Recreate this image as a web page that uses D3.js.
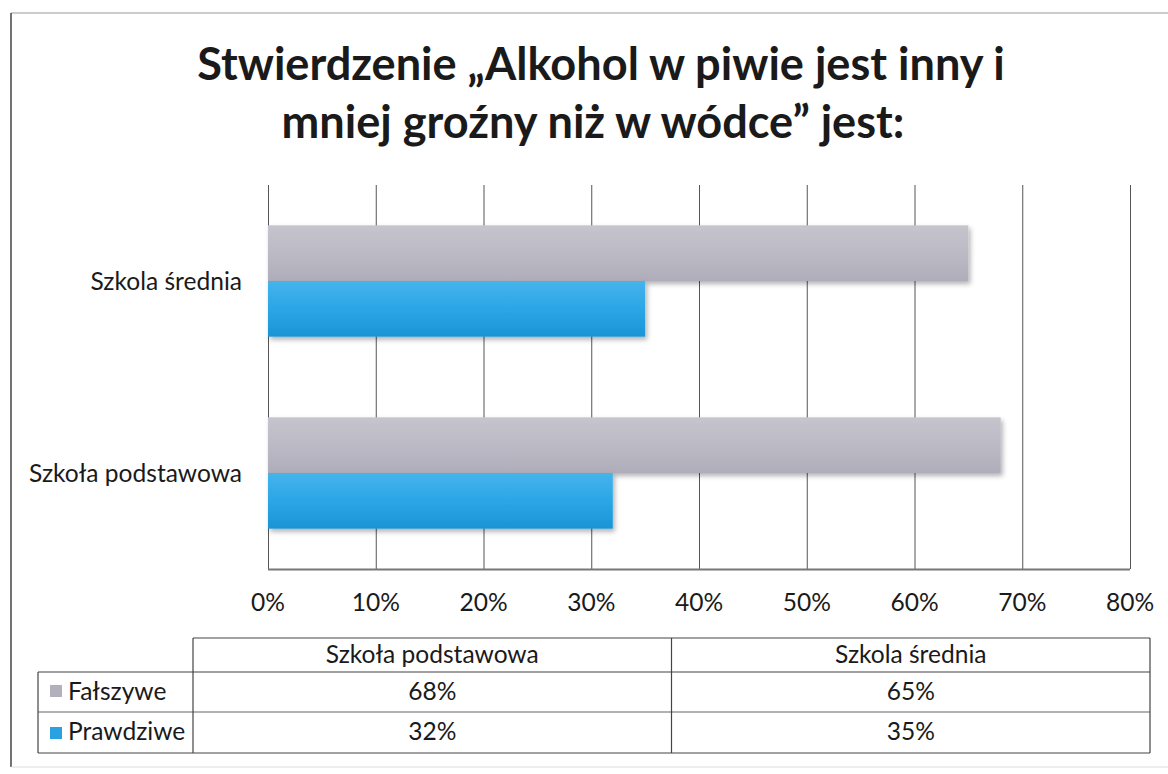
<!DOCTYPE html>
<html><head><meta charset="utf-8">
<script src="https://cdn.jsdelivr.net/npm/d3@7"></script>
<style>body{margin:0;background:#fff;} svg{display:block;} text{font-family:Lato,"Open Sans",sans-serif;fill:#1a1a1a;}</style>
</head><body>
<svg id="c" width="1168" height="774"></svg>
<script>
const titleLines = ["Stwierdzenie \u201EAlkohol w piwie jest inny i", "mniej gro\u017Any ni\u017C w w\u00F3dce\u201D jest:"];
const categories = ["Szkola \u015Brednia", "Szko\u0142a podstawowa"];
const tableCategories = ["Szko\u0142a podstawowa", "Szkola \u015Brednia"];
const seriesNames = ["Fa\u0142szywe", "Prawdziwe"];
const falszywe = {"Szkola \u015Brednia": 65, "Szko\u0142a podstawowa": 68};
const prawdziwe = {"Szkola \u015Brednia": 35, "Szko\u0142a podstawowa": 32};
const tickValues = [0,10,20,30,40,50,60,70,80];

const svg = d3.select("#c");
const defs = svg.append("defs");
function grad(id, c1, c2, c3){
  const g = defs.append("linearGradient").attr("id", id).attr("x1",0).attr("y1",0).attr("x2",0).attr("y2",1);
  g.append("stop").attr("offset","0%").attr("stop-color",c1);
  g.append("stop").attr("offset","50%").attr("stop-color",c2);
  g.append("stop").attr("offset","100%").attr("stop-color",c3);
}
grad("gGray", "#c6c5ce", "#bbbac5", "#aeadb9");
grad("gBlue", "#45b4ec", "#2ba6e6", "#1b94d6");
const f = defs.append("filter").attr("id","sh").attr("x","-5%").attr("y","-20%").attr("width","115%").attr("height","160%");
f.append("feDropShadow").attr("dx",2).attr("dy",3).attr("stdDeviation",2.5).attr("flood-color","#000").attr("flood-opacity",0.3);

// frame
svg.append("line").attr("x1",11).attr("x2",1168).attr("y1",13).attr("y2",13).attr("stroke","#bbb").attr("stroke-width",1.5);
svg.append("line").attr("x1",11).attr("x2",11).attr("y1",13).attr("y2",767).attr("stroke","#444").attr("stroke-width",1.5);
svg.append("line").attr("x1",11).attr("x2",1168).attr("y1",767).attr("y2",767).attr("stroke","#ddd").attr("stroke-width",1);

function fit(sel, w){
  const n = sel.node();
  const cur = parseFloat(sel.attr("font-size"));
  const len = n.getComputedTextLength();
  sel.attr("font-size", cur * w / len);
}

// title
const t1 = svg.append("text").attr("x",601).attr("y",80).attr("text-anchor","middle").attr("font-weight",700).attr("font-size",48).text(titleLines[0]);
fit(t1, 808);
const t2 = svg.append("text").attr("x",593).attr("y",138).attr("text-anchor","middle").attr("font-weight",700).attr("font-size",t1.attr("font-size")).text(titleLines[1]);

const x = d3.scaleLinear().domain([0,80]).range([268,1130]);
const y = d3.scaleBand().domain(categories).range([185,569]).paddingInner(0.42).paddingOuter(0.21);
const ys = d3.scaleBand().domain(seriesNames).range([0, y.bandwidth()]);

// gridlines
const grid = svg.append("g").attr("transform","translate(0,569)")
  .call(d3.axisBottom(x).tickValues(tickValues).tickSize(-384).tickFormat(""));
grid.select(".domain").remove();
grid.selectAll(".tick line").attr("stroke","#555").attr("stroke-width",1);
svg.append("line").attr("x1",268).attr("x2",1130).attr("y1",569.5).attr("y2",569.5).attr("stroke","#777").attr("stroke-width",2);

// x labels
const xl = svg.append("g").attr("transform","translate(0,611)");
xl.selectAll("text").data(tickValues).join("text")
  .attr("x", d => x(d)).attr("text-anchor","middle").attr("font-size",24).text(d => d + "%");

// bars
const bars = svg.append("g");
categories.forEach(c => {
  const y0 = y(c);
  bars.append("rect").attr("x", x(0)).attr("y", y0 + ys("Fa\u0142szywe")).attr("width", x(falszywe[c]) - x(0)).attr("height", ys.bandwidth())
    .attr("fill","url(#gGray)").attr("filter","url(#sh)");
  bars.append("rect").attr("x", x(0)).attr("y", y0 + ys("Prawdziwe")).attr("width", x(prawdziwe[c]) - x(0)).attr("height", ys.bandwidth())
    .attr("fill","url(#gBlue)").attr("filter","url(#sh)");
});

// category labels
const cl = svg.append("g");
const catText = cl.selectAll("text").data(categories).join("text")
  .attr("x", 242).attr("y", d => y(d) + y.bandwidth()/2 + 9).attr("text-anchor","end").attr("font-size",24).text(d => d);
fit(d3.select(catText.nodes()[1]), 213);
const fs = d3.select(catText.nodes()[1]).attr("font-size");
catText.attr("font-size", fs);
xl.selectAll("text").attr("font-size", fs);

// data table
const tbl = svg.append("g");
const colX = d3.scaleBand().domain(tableCategories).range([193,1150]);
const rowTop = [638, 672, 712, 753];
const line = (x1,y1,x2,y2,c,w) => tbl.append("line").attr("x1",x1).attr("y1",y1).attr("x2",x2).attr("y2",y2).attr("stroke",c||"#444").attr("stroke-width",w||1.2);
line(193,rowTop[0],1150,rowTop[0]);
line(38,rowTop[1],1150,rowTop[1]);
line(38,rowTop[2],1150,rowTop[2],"#666");
line(38,rowTop[3],1150,rowTop[3]);
line(38,rowTop[1],38,rowTop[3]);
line(193,rowTop[0],193,rowTop[3]);
line(colX.range()[0]+colX.bandwidth(),rowTop[0],colX.range()[0]+colX.bandwidth(),rowTop[3]);
line(1150,rowTop[0],1150,rowTop[3]);

tbl.selectAll("text.h").data(tableCategories).join("text").attr("class","h")
  .attr("x", d => colX(d) + colX.bandwidth()/2).attr("y", 663).attr("text-anchor","middle").attr("font-size", fs).text(d => d);
const rows = [{name: seriesNames[0], vals: falszywe, fill: "#b1b0bb", y: 700, ky: 685},
              {name: seriesNames[1], vals: prawdziwe, fill: "#2aa2e2", y: 740, ky: 727}];
rows.forEach(r => {
  tbl.append("rect").attr("x",50).attr("y",r.ky).attr("width",12).attr("height",12).attr("fill",r.fill);
  tbl.append("text").attr("x",68).attr("y",r.y).attr("font-size",fs).text(r.name);
  tableCategories.forEach(c => {
    tbl.append("text").attr("x", colX(c) + colX.bandwidth()/2).attr("y", r.y).attr("text-anchor","middle").attr("font-size",fs).text(r.vals[c] + "%");
  });
});
</script>
</body></html>
